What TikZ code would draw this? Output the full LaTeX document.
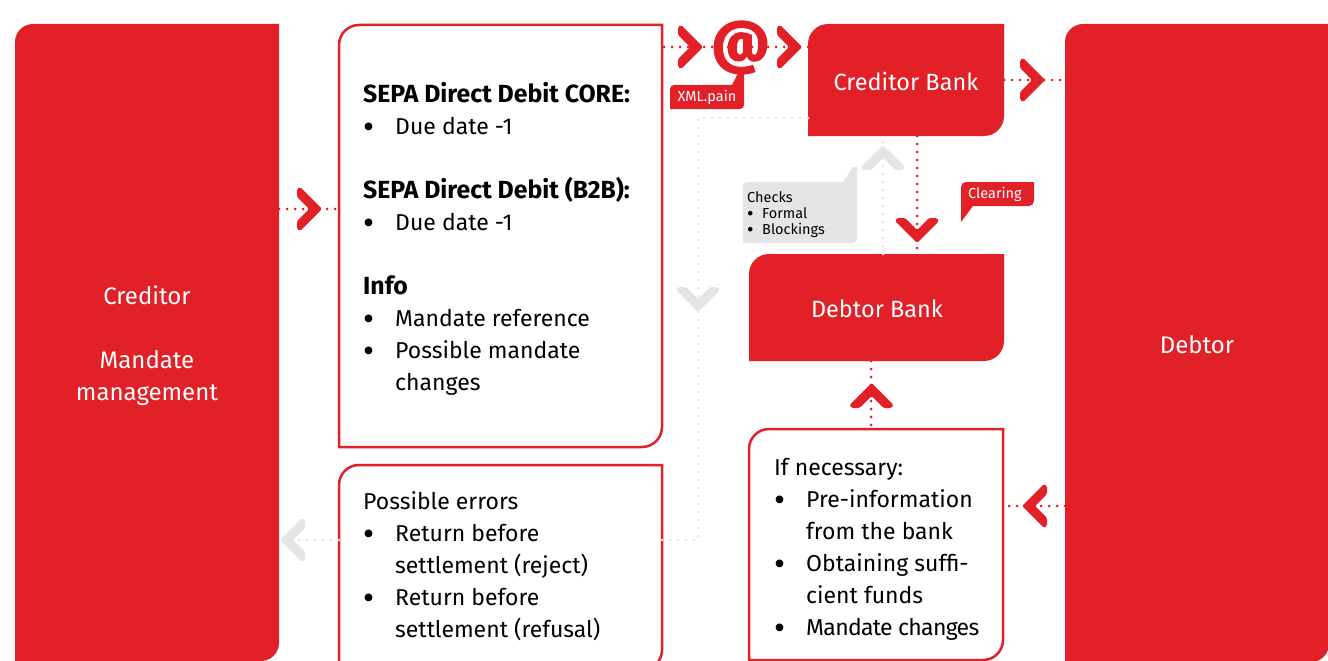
\documentclass[tikz,border=0pt]{standalone}
\usepackage{fontspec}
\setmainfont{Fira Sans}
\definecolor{dbred}{HTML}{E12028}
\definecolor{dbgrey}{HTML}{E5E5E5}
\newcommand{\bigdot}{\raisebox{-4pt}[0pt][0pt]{\fontsize{34}{32}\selectfont\mdseries•}}
\newcommand{\bl}[1]{\makebox[32pt][l]{\hspace{0pt}\bigdot}#1}
\newcommand{\cbl}[1]{\makebox[15pt][l]{\raisebox{-2pt}[0pt][0pt]{\fontsize{20}{16}\selectfont•}}#1}
\newcommand{\tlbrshape}[6]{% style, r, x1,y1,x2,y2
  \path[#1] (#3,#6) [rounded corners=#2pt] -- (#3,#4) [sharp corners] -- (#5,#4) [rounded corners=#2pt] -- (#5,#6) [sharp corners] -- cycle;}
\tikzset{
  x=1pt,y=-1pt,
  solidbox/.style={fill=dbred},
  linebox/.style={draw=dbred,line width=2.5pt,fill=white},
  whitetext/.style={text=white,align=center,inner sep=0pt,font=\fontsize{24}{32}\selectfont},
  banktext/.style={text=white,align=center,inner sep=0pt,font=\fontsize{23.5}{32}\selectfont},
  blacktext/.style={anchor=north west,align=left,inner sep=0pt,text=black,font=\fontsize{23}{32}\selectfont},
  reddots/.style={draw=dbred,line width=3pt,line cap=round,dash pattern=on 0pt off 8pt},
  greydots/.style={draw=dbgrey,line width=3pt,line cap=round,dash pattern=on 0pt off 8pt},
  chevron/.pic={\fill[pic actions,rounded corners=1.5pt] (0,0) -- (-22,-22) -- (-25,-20) -- (-25,-12) -- (-13,0) -- (-25,12) -- (-25,20) -- (-22,22) -- cycle;},
}
\newcommand{\hd}[1]{{\bfseries\fontsize{24.8}{32}\selectfont #1}}
\begin{document}
\begin{tikzpicture}
\useasboundingbox (0,0) rectangle (1328,661);
% shapes
\tlbrshape{solidbox}{18}{15}{24}{279}{661}
\tlbrshape{solidbox}{18}{1065}{24}{1329}{662}
\tlbrshape{linebox}{20}{339}{25}{662}{447}
\tlbrshape{linebox}{20}{339}{465}{662}{670}
\tlbrshape{solidbox}{20}{808}{24}{1004}{136}
\tlbrshape{solidbox}{20}{749}{254}{1004}{361}
\tlbrshape{linebox}{20}{749}{429}{1003}{660}
% anchors
\coordinate (cr) at (279,209);
\coordinate (mainl) at (339,209);
\coordinate (mainr) at (664,47);
\coordinate (cbl) at (808,47);
\coordinate (cbg) at (808,118);
\coordinate (cbr) at (1004,80);
\coordinate (dtl) at (1065,80);
\coordinate (cbb) at (917,136);
\coordinate (dbt) at (917,254);
\coordinate (cbb2) at (883,136);
\coordinate (dbt2) at (883,254);
\coordinate (bendA) at (698,118);
\coordinate (bendB) at (698,540);
\coordinate (errr) at (657,540);
\coordinate (errl) at (339,540);
\coordinate (crl) at (281,540);
\coordinate (dbb) at (871,361);
\coordinate (ift) at (871,429);
\coordinate (dtl2) at (1065,506);
\coordinate (ifr) at (1003,506);
% connectors
\draw[reddots] (cr) -- (mainl);
\draw[reddots] (mainr) -- (cbl);
\draw[reddots] (cbr) -- (dtl);
\draw[reddots] (cbb) -- (dbt);
\draw[reddots] (dbb) -- (ift);
\draw[reddots] (dtl2) -- (ifr);
\draw[greydots] (cbg) -- (bendA) -- (bendB) -- (errr);
\draw[greydots] (errl) -- (crl);
\draw[greydots] (dbt2) -- (cbb2);
% chevrons
\path pic[dbred] at (322,209) {chevron};
\path pic[dbred] at (703,47) {chevron};
\path pic[dbred] at (802,47) {chevron};
\path pic[dbred] at (1045,80) {chevron};
\path pic[dbred,rotate=-90] at (917,243) {chevron};
\path pic[dbred,rotate=90] at (871.5,383) {chevron};
\path pic[dbred,rotate=180] at (1022,506) {chevron};
\path pic[dbgrey,rotate=90] at (883,145) {chevron};
\path pic[dbgrey,rotate=-90] at (698,312) {chevron};
\path pic[dbgrey,rotate=180] at (280,540) {chevron};
% callouts
\fill[dbred] (670,109) [rounded corners=4pt] -- (670,85) [sharp corners] -- (732,85) -- (738,73) -- (744,73) [rounded corners=4pt] -- (744,109) [sharp corners] -- cycle;
\fill[dbred] (961,222) [rounded corners=5pt] -- (961,182) [sharp corners] -- (1034,182) [rounded corners=5pt] -- (1034,206) [sharp corners] -- (973,206) -- cycle;
\fill[dbgrey] (743,243) [rounded corners=4pt] -- (743,182) [sharp corners] -- (843,182) -- (853,167) -- (857,167) [rounded corners=4pt] -- (857,243) [sharp corners] -- cycle;
% text
\node[font=\bfseries\fontsize{57}{57}\selectfont\addfontfeature{FakeBold=2},text=dbred,inner sep=0pt] (at) at (740.5,47.5) {@};
\node[text=white,inner sep=0pt,font=\fontsize{14.5}{16}\selectfont] (xml) at (707,97) {XML.pain};
\node[text=white,inner sep=0pt,font=\fontsize{14.5}{16}\selectfont,anchor=west] (clr) at (968,194) {Clearing};
\node[text=black,inner sep=0pt,anchor=north west,align=left,font=\fontsize{14.5}{16}\selectfont] (chk) at (747,191) {Checks\\\cbl{Formal}\\\cbl{Blockings}};
\node[whitetext] (crt) at (147,346) {Creditor\\\mbox{}\\Mandate\\management};
\node[whitetext] (dtt) at (1197,345) {Debtor};
\node[banktext] (cbt) at (906,81.5) {Creditor Bank};
\node[banktext] (dbbt) at (877,309) {Debtor Bank};
\node[blacktext] (maint) at (363,82) {\hd{SEPA Direct Debit CORE:}\\\bl{Due date -1}\\\mbox{}\\\hd{SEPA Direct Debit (B2B):}\\\bl{Due date -1}\\\mbox{}\\\hd{Info}\\\bl{Mandate reference}\\\bl{Possible mandate}\\\hspace{32pt}changes};
\node[blacktext] (errt) at (363,491) {Possible errors\\\bl{Return before}\\\hspace{32pt}settlement (reject)\\\bl{Return before}\\\hspace{32pt}settlement (refusal)};
\node[blacktext] (ift2) at (774,458) {If necessary:\\\bl{Pre-information}\\\hspace{32pt}from the bank\\\bl{Obtaining suffi-}\\\hspace{32pt}cient funds\\\bl{\addfontfeature{LetterSpace=-3}Mandate changes}};
\end{tikzpicture}
\end{document}
